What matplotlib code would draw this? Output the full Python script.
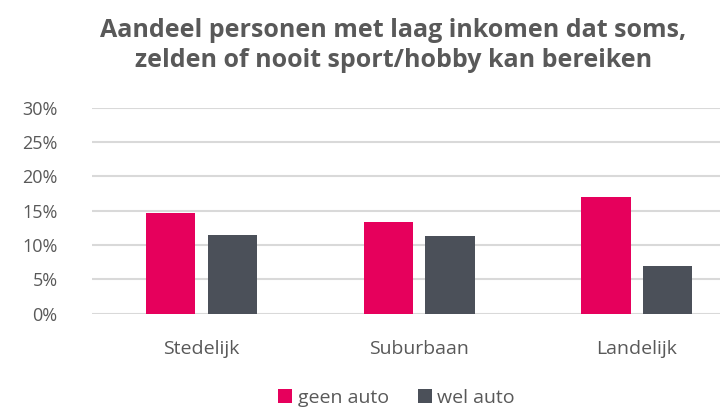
import matplotlib.pyplot as plt
import numpy as np

plt.rcParams['font.family'] = ['Open Sans', 'DejaVu Sans']

categories = ['Stedelijk', 'Suburbaan', 'Landelijk']
geen_auto = [14.6, 13.3, 17.0]
wel_auto = [11.5, 11.3, 7.0]
series_names = ['geen auto', 'wel auto']
yticks = [0, 5, 10, 15, 20, 25, 30]

pink = '#E6005C'
dark = '#4B5059'
text_grey = '#595959'

fig = plt.figure(figsize=(7.2, 4.07), dpi=100)
ax = fig.add_axes([0.128, 0.2297, 0.908, 0.505])

x = np.arange(len(categories))
w = 0.225
ax.bar(x - 0.142, geen_auto, w, color=pink, label=series_names[0], zorder=3)
ax.bar(x + 0.142, wel_auto, w, color=dark, label=series_names[1], zorder=3)

ax.set_xlim(-0.5, 2.5)
ax.set_ylim(0, 30)
ax.set_yticks(yticks)
ax.set_yticklabels([f'{t}%' for t in yticks], fontsize=13, color=text_grey)
ax.set_xticks(x)
ax.set_xticklabels(categories, fontsize=14, color=text_grey)
ax.tick_params(axis='both', length=0)
ax.tick_params(axis='y', pad=25)
ax.tick_params(axis='x', pad=19)
ax.yaxis.grid(True, color='#D9D9D9', linewidth=1.5, zorder=0)
for s in ax.spines.values():
    s.set_visible(False)

fig.text(0.546, 0.889, 'Aandeel personen met laag inkomen dat soms,\nzelden of nooit sport/hobby kan bereiken',
         ha='center', va='center', fontsize=18, fontweight='bold', color=text_grey, linespacing=1.25)

fig.legend(loc='center', bbox_to_anchor=(0.551, 0.022), ncol=2, frameon=False,
           fontsize=14, labelcolor=text_grey, handlelength=0.7, handleheight=0.7,
           handletextpad=0.3, columnspacing=1.5)

fig.savefig('out.png', dpi=100)
